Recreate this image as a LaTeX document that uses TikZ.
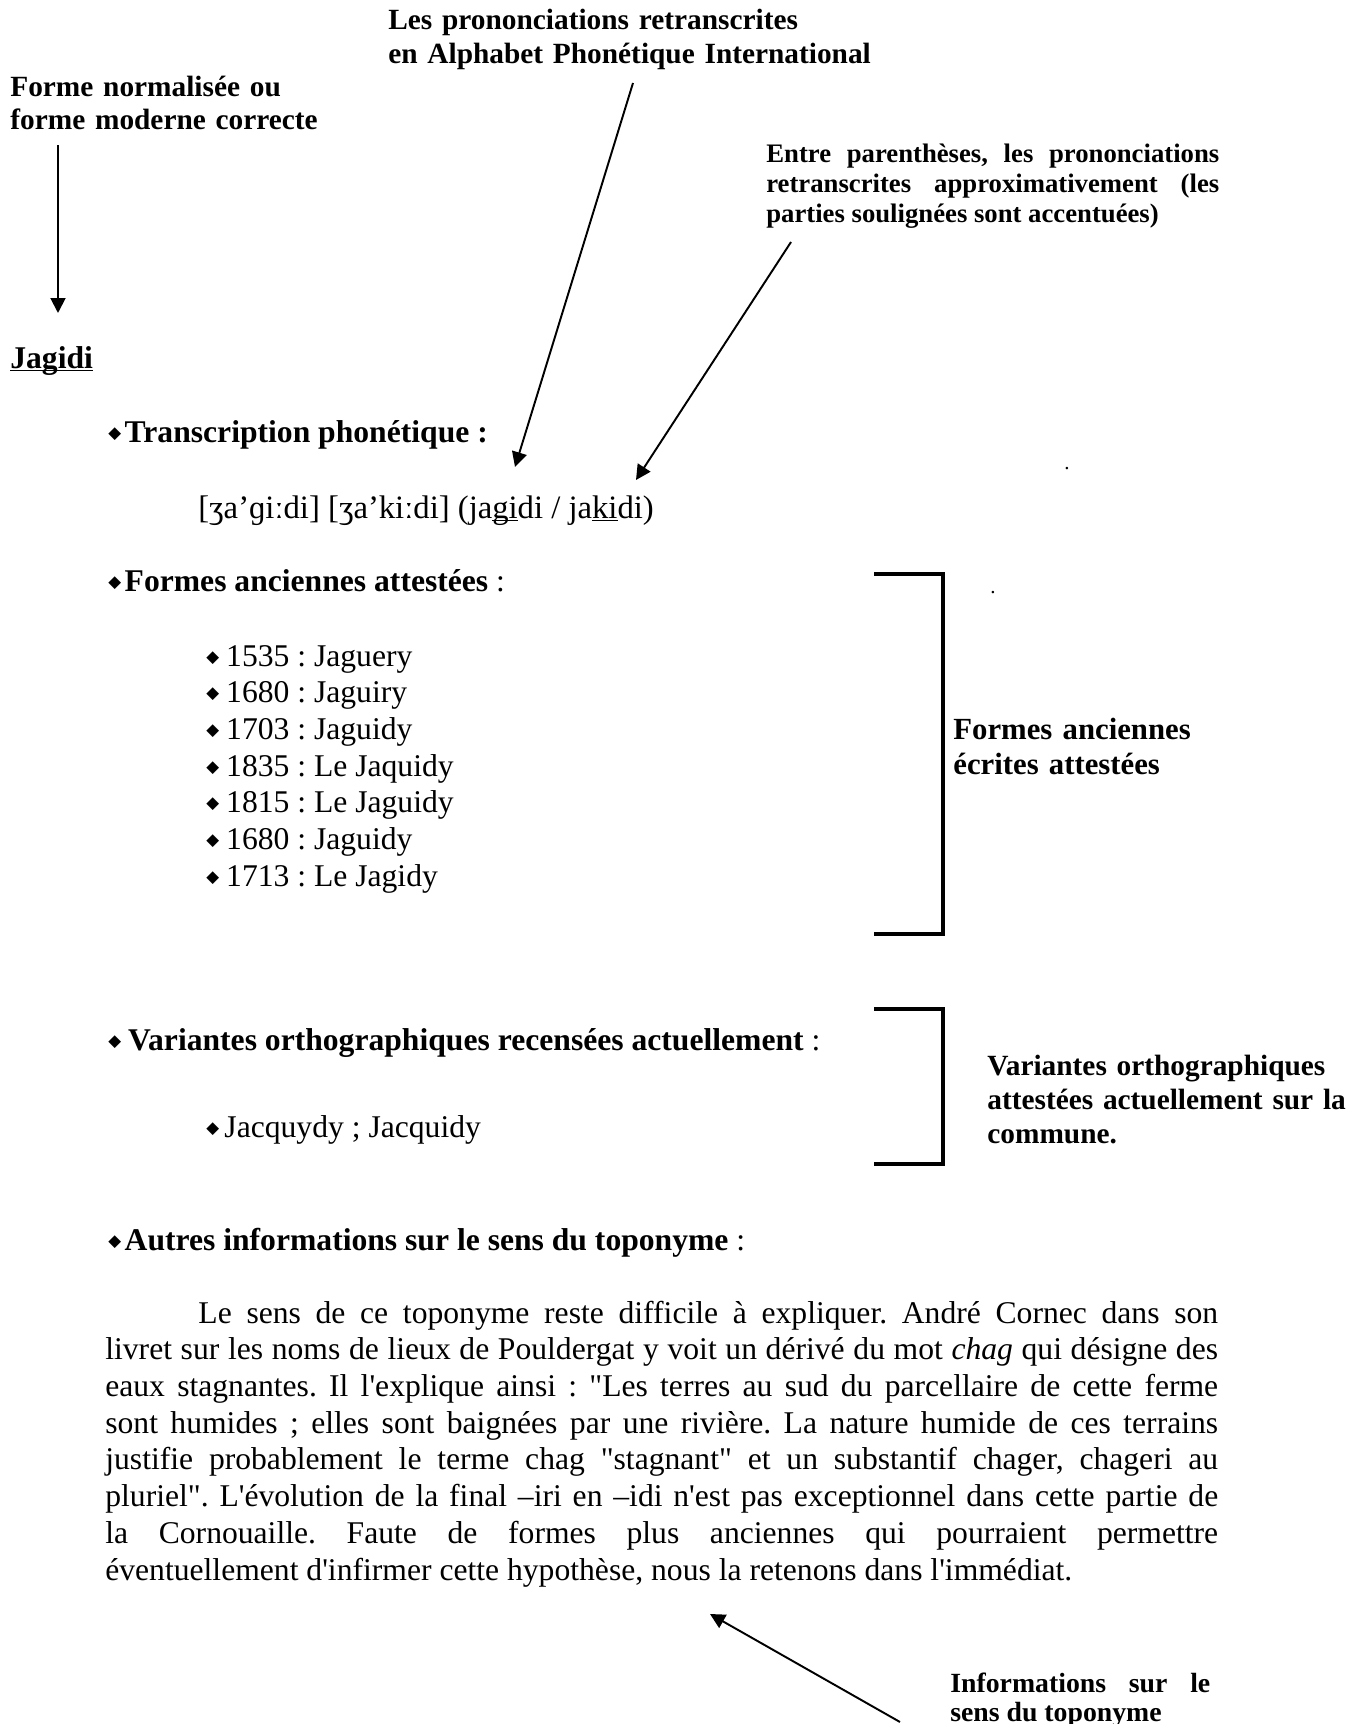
\documentclass[tikz,border=0pt]{standalone}
\usepackage{fontspec}
\setmainfont{Liberation Serif}
\newfontfamily\plainserif{Liberation Serif}
\newfontfamily\symbfont{DejaVu Sans}
\usepackage{tikz}
\usetikzlibrary{arrows.meta}
\frenchspacing

\newcommand{\puce}{\raisebox{2.2pt}{\symbfont\fontsize{9.5}{9.5}\selectfont ◆}\hspace{2pt}}
\newcommand{\souligne}[1]{\underline{\smash{#1}}}

\begin{document}
\begin{tikzpicture}[
				x=0.02cm, y=-0.02cm,
				label style/.style={
					inner sep=0pt,
					anchor=base west,
					align=left,
					font=\plainserif\bfseries\fontsize{16.7}{18.8}\selectfont
				},
				body style/.style={
					inner sep=0pt,
					anchor=base west,
					font=\plainserif\fontsize{18}{20.9}\selectfont
				},
				head style/.style={
					body style,
					font=\plainserif\bfseries\fontsize{18}{20.9}\selectfont
				},
				crochet/.style={line width=2.3pt, line join=miter},
				>={Triangle[length=8.5pt, width=8.5pt]},
				fleche/.style={->, line width=1.1pt}
				]
				
				\useasboundingbox (0,0) rectangle (1360,1724);
				
				\node[label style, text width=10cm] (labelApi) at (388,30)
				{Les prononciations retranscrites\\en Alphabet Phonétique International};
				
				\node[label style, text width=7cm, font=\plainserif\bfseries\fontsize{16.7}{19.3}\selectfont] (labelForme) at (10,96)
				{Forme normalisée ou\\forme moderne correcte};
				
				\node[label style, text width=9.06cm, align=justify, font=\plainserif\bfseries\fontsize{15.2}{17.1}\selectfont] (labelApprox) at (766,162)
				{Entre parenthèses, les prononciations\linebreak retranscrites approximativement (les\linebreak parties soulignées sont accentuées)};
				
				\node[head style] (jagidi) at (10,368) {\souligne{Jagidi}};
				
				\node[head style] (headTrans) at (108,442) {\puce Transcription phonétique :};
				
				\node[body style, font=\plainserif\fontsize{18.6}{20.9}\selectfont] (ipa) at (198,518)
				{[ʒa’ɡiːdi] [ʒa’kiːdi] (ja\souligne{gi}di / ja\souligne{ki}di)};
				
				\node[head style] (headFormes) at (108,591) {\puce Formes anciennes attestées\mdseries{} :};
				
				\node[body style] (forme1) at (206,666) {\puce\hspace{2pt}1535 : Jaguery};
				\node[body style] (forme2) at (206,702.7) {\puce\hspace{2pt}1680 : Jaguiry};
				\node[body style] (forme3) at (206,739.4) {\puce\hspace{2pt}1703 : Jaguidy};
				\node[body style] (forme4) at (206,776.1) {\puce\hspace{2pt}1835 : Le Jaquidy};
				\node[body style] (forme5) at (206,812.8) {\puce\hspace{2pt}1815 : Le Jaguidy};
				\node[body style] (forme6) at (206,849.5) {\puce\hspace{2pt}1680 : Jaguidy};
				\node[body style] (forme7) at (206,886.2) {\puce\hspace{2pt}1713 : Le Jagidy};
				
				\node[head style] (headVariantes) at (108,1050)
				{\puce\hspace{2pt}Variantes orthographiques recensées actuellement\mdseries{} :};
				
				\node[body style] (variantes) at (206,1137) {\puce\hspace{1pt}Jacquydy ; Jacquidy};
				
				\node[head style] (headAutres) at (108,1250)
				{\puce Autres informations sur le sens du toponyme\mdseries{} :};
				
				\node[body style, text width=22.26cm, align=justify] (sens) at (105,1323)
				{\hspace*{53pt}Le sens de ce toponyme reste difficile à expliquer. André Cornec dans son\linebreak
				livret sur les noms de lieux de Pouldergat y voit un dérivé du mot \textit{chag} qui désigne des\linebreak
				eaux stagnantes. Il l'explique ainsi : "Les terres au sud du parcellaire de cette ferme\linebreak
				sont humides ; elles sont baignées par une rivière. La nature humide de ces terrains\linebreak
				justifie probablement le terme chag "stagnant" et un substantif chager, chageri au\linebreak
				pluriel". L'évolution de la final –iri en –idi n'est pas exceptionnel dans cette partie de\linebreak
				la Cornouaille. Faute de formes plus anciennes qui pourraient permettre\linebreak
				éventuellement d'infirmer cette hypothèse, nous la retenons dans l'immédiat.};
				
				% crochets
				\draw[crochet] (874,574) -| (943,934) -- (874,934);
				\draw[crochet] (874,1009) -| (943,1164) -- (874,1164);
				
				\node[label style, text width=6cm, font=\plainserif\bfseries\fontsize{17.5}{20}\selectfont] (labelAnciennes) at (953,739)
				{Formes anciennes\\écrites attestées};
				
				\node[label style, text width=7.4cm, font=\plainserif\bfseries\fontsize{16.7}{19.4}\selectfont] (labelVariantes) at (987,1075)
				{Variantes orthographiques\\attestées actuellement sur la\\commune.};
				
				\node[label style, text width=5.2cm, align=justify, font=\plainserif\bfseries\fontsize{15.8}{16.5}\selectfont] (labelSens) at (950,1692)
				{Informations sur le\linebreak sens du toponyme};
				
				\node[body style, font=\plainserif\fontsize{12}{12}\selectfont] (point1) at (1064,469) {.};
				\node[body style, font=\plainserif\fontsize{12}{12}\selectfont] (point2) at (990,593) {.};
				
				% fleches
				\coordinate (formeTail) at (58,145);
				\coordinate (formeHead) at (58,313);
				\coordinate (apiTail) at (633,83);
				\coordinate (apiHead) at (515,467);
				\coordinate (approxTail) at (791,242);
				\coordinate (approxHead) at (636,480);
				\coordinate (sensTail) at (900,1722);
				\coordinate (sensHead) at (710,1614);
				
				\draw[fleche] (formeTail) -- (formeHead);
				\draw[fleche] (apiTail) -- (apiHead);
				\draw[fleche] (approxTail) -- (approxHead);
				\draw[fleche] (sensTail) -- (sensHead);
				
			\end{tikzpicture}
\end{document}
